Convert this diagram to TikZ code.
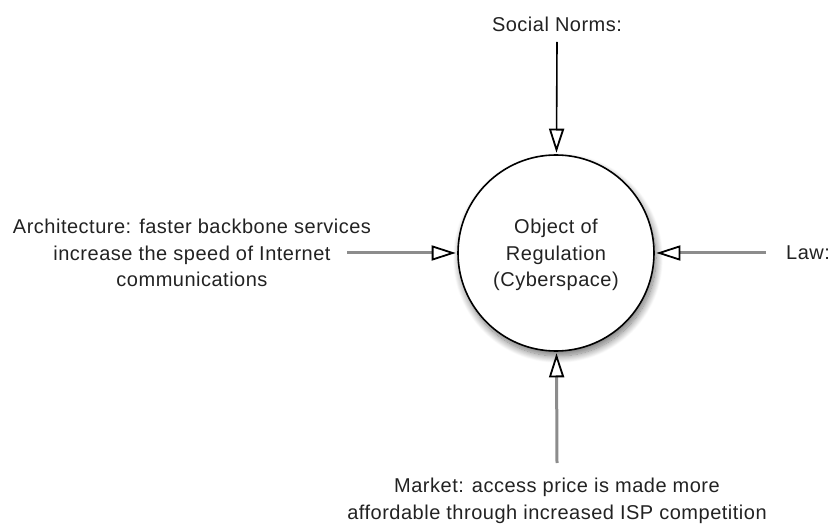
\documentclass[tikz,border=0pt]{standalone}
\usepackage{fontspec}
\setmainfont{Liberation Sans}[LetterSpace=2.5]
\usetikzlibrary{arrows.meta,shadows.blur}
\definecolor{linegray}{HTML}{8C8C8C}
\definecolor{txt}{HTML}{222222}
\tikzset{
  lbl/.style={align=center, text=txt, font=\fontsize{20bp}{26.5bp}\selectfont, inner sep=0pt},
  hub/.style={circle, draw=black, line width=1.6bp, fill=white, minimum size=196bp, inner sep=0pt,
    blur shadow={shadow xshift=2bp, shadow yshift=-5bp, shadow blur radius=7bp, shadow blur steps=14, shadow opacity=55}},
  grayarrow/.style={draw=linegray, line width=3bp, shorten >=1.5bp,
    -{Triangle[open, length=24bp, width=15bp, color=black, line width=1.8bp, fill=white]}},
  blackarrow/.style={draw=black, line width=1.6bp, shorten >=1.5bp,
    -{Triangle[open, length=24bp, width=15bp, color=black, line width=1.8bp, fill=white]}}
}
\begin{document}
\begin{tikzpicture}[x=1bp, y=-1bp]
\useasboundingbox (0,0) rectangle (832,524);
\node[hub] (obj) at (556,253) {};
\node[lbl] (objtext) at (556,255) {Object of\\Regulation\\(Cyberspace)};
\node[lbl] (social) at (557,24) {Social Norms:};
\node[lbl] (arch) at (192,253) {Architecture: faster backbone services\\increase the speed of Internet\\communications};
\node[lbl, anchor=west] (law) at (786,253) {Law:};
\node[lbl] (market) at (557,501) {Market: access price is made more\\affordable through increased ISP competition};
\coordinate (sstart) at (557,42);
\coordinate (astart) at (347,253);
\coordinate (lstart) at (766,253);
\coordinate (mstart) at (557,463);
\draw[blackarrow] (sstart) -- (obj);
\draw[grayarrow] (astart) -- (obj);
\draw[grayarrow] (lstart) -- (obj);
\draw[grayarrow] (mstart) -- (obj);
\end{tikzpicture}
\end{document}
